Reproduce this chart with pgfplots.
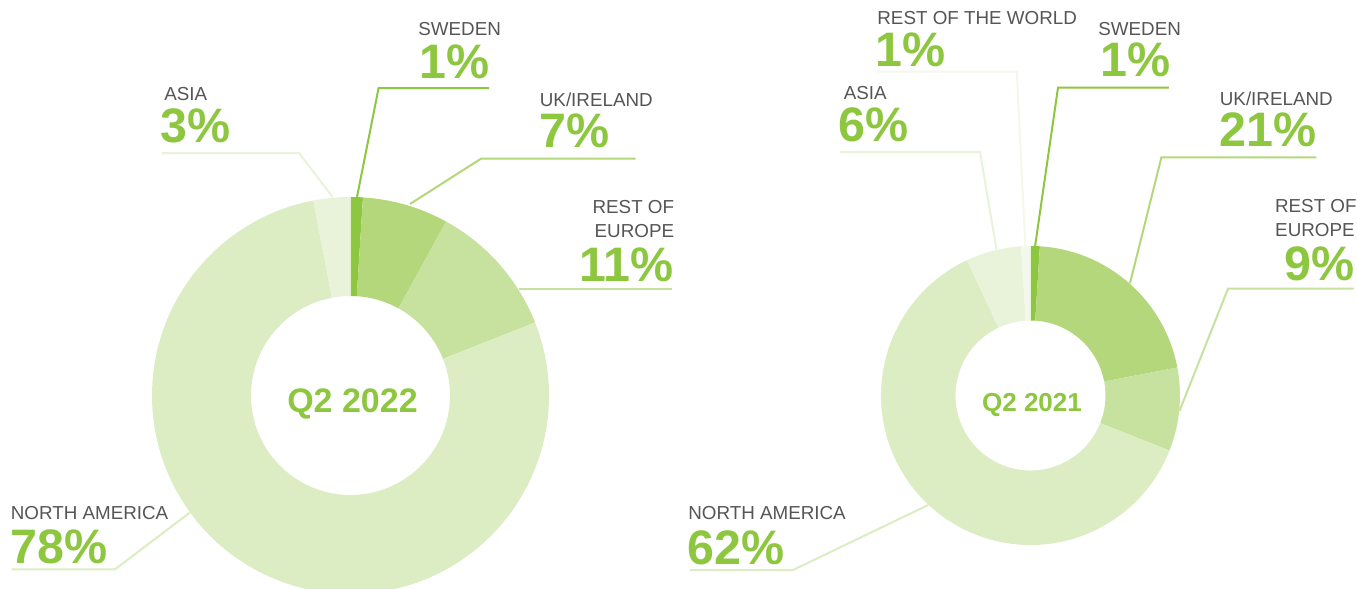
\documentclass[border=0pt]{standalone}
\usepackage{pgfplots}
\pgfplotsset{compat=1.18}
\usepackage{fontspec}
\setmainfont{Liberation Sans}
\definecolor{cSwe}{HTML}{8DC63F}
\definecolor{cUK}{HTML}{B3D77A}
\definecolor{cRoE}{HTML}{C6E29E}
\definecolor{cNA}{HTML}{DCECC3}
\definecolor{cAsia}{HTML}{E8F3DA}
\definecolor{cRoW}{HTML}{F3F8EC}
\definecolor{cTxt}{HTML}{8DC63F}
\definecolor{cGray}{HTML}{555555}
\tikzset{
  lab/.style={font=\fontsize{9.4}{11}\selectfont, text=cGray, inner sep=0pt},
  pct/.style={font=\fontsize{24.2}{28}\selectfont\bfseries, text=cTxt, inner sep=0pt}}
% #1 cx, #2 cy (image px), #3 outer radius, #4 inner radius, #5 cumulative % before slice, #6 slice %, #7 colour
\newcommand\slice[7]{%
  \fill[#7, shift={(axis cs:#1,#2)}]
    ({90-3.6*#5}:#3) arc[start angle={90-3.6*#5}, end angle={90-3.6*(#5+#6)}, radius=#3]
    -- ({90-3.6*(#5+#6)}:#4) arc[start angle={90-3.6*(#5+#6)}, end angle={90-3.6*#5}, radius=#4] -- cycle;}
\begin{document}
\begin{tikzpicture}
\begin{axis}[width=678.5pt, height=294.5pt, scale only axis, hide axis,
  xmin=0, xmax=1357, ymin=0, ymax=589, y dir=reverse, clip=false]
\begin{scope}
\clip (axis cs:0,0) rectangle (axis cs:1357,589);
% Q2 2022: Sweden 1, UK/Ireland 7, Rest of Europe 11, North America 78, Asia 3
\slice{350.5}{395.5}{99.25pt}{49.75pt}{0}{1}{cSwe}
\slice{350.5}{395.5}{99.25pt}{49.75pt}{1}{7}{cUK}
\slice{350.5}{395.5}{99.25pt}{49.75pt}{8}{11}{cRoE}
\slice{350.5}{395.5}{99.25pt}{49.75pt}{19}{78}{cNA}
\slice{350.5}{395.5}{99.25pt}{49.75pt}{97}{3}{cAsia}
% Q2 2021: Sweden 1, UK/Ireland 21, Rest of Europe 9, North America 62, Asia 6, Rest of the world 1
\slice{1030.5}{395.5}{74.75pt}{37.5pt}{0}{1}{cSwe}
\slice{1030.5}{395.5}{74.75pt}{37.5pt}{1}{21}{cUK}
\slice{1030.5}{395.5}{74.75pt}{37.5pt}{22}{9}{cRoE}
\slice{1030.5}{395.5}{74.75pt}{37.5pt}{31}{62}{cNA}
\slice{1030.5}{395.5}{74.75pt}{37.5pt}{93}{6}{cAsia}
\slice{1030.5}{395.5}{74.75pt}{37.5pt}{99}{1}{cRoW}
\end{scope}
% leader lines, left
\addplot[no markers, line width=1pt, cSwe] coordinates {(489,88) (378.6,88) (357,197)};
\addplot[no markers, line width=1pt, cAsia] coordinates {(161.6,153) (299,153) (332.6,197)};
\addplot[no markers, line width=1pt, cUK] coordinates {(635.7,158.7) (481,158.7) (410,204)};
\addplot[no markers, line width=1pt, cRoE] coordinates {(672,288.7) (519,288.7)};
\addplot[no markers, line width=1pt, cNA] coordinates {(11.6,569.3) (115,569.3) (189.7,512.7)};
% leader lines, right
\addplot[no markers, line width=1pt, cRoW] coordinates {(877,71.7) (1016.8,71.7) (1025.4,246.7)};
\addplot[no markers, line width=1pt, cSwe] coordinates {(1168.8,87.7) (1058,87.7) (1035,246.7)};
\addplot[no markers, line width=1pt, cAsia] coordinates {(840,152) (980,152) (996.5,249.3)};
\addplot[no markers, line width=1pt, cUK] coordinates {(1316.4,157.3) (1161.4,157.3) (1130,283.3)};
\addplot[no markers, line width=1pt, cRoE] coordinates {(1353.6,288.7) (1228,288.7) (1179.6,410.7)};
\addplot[no markers, line width=1pt, cNA] coordinates {(689.5,570) (793,570) (928.3,505)};
% texts, left
\node[lab, anchor=base west] at (axis cs:418,35.7) {SWEDEN};
\node[pct, anchor=base west] at (axis cs:419,78) {1\%};
\node[lab, anchor=base west] at (axis cs:164,100) {ASIA};
\node[pct, anchor=base west] at (axis cs:160,142) {3\%};
\node[lab, anchor=base west] at (axis cs:539.5,106) {UK/IRELAND};
\node[pct, anchor=base west] at (axis cs:539,148) {7\%};
\node[lab, anchor=base east] at (axis cs:674.5,213) {REST OF};
\node[lab, anchor=base east] at (axis cs:674.5,237) {EUROPE};
\node[pct, anchor=base east] at (axis cs:674,281) {11\%};
\node[lab, anchor=base west] at (axis cs:10.5,519) {NORTH AMERICA};
\node[pct, anchor=base west] at (axis cs:10,563) {78\%};
\node[anchor=base, inner sep=0pt, text=cTxt, font=\fontsize{17}{20}\selectfont\bfseries] at (axis cs:352.5,412) {Q2 2022};
% texts, right
\node[lab, anchor=base west] at (axis cs:877,25) {REST OF THE WORLD};
\node[pct, anchor=base west] at (axis cs:875.5,67) {1\%};
\node[lab, anchor=base west] at (axis cs:1098,35) {SWEDEN};
\node[pct, anchor=base west] at (axis cs:1100,76) {1\%};
\node[lab, anchor=base west] at (axis cs:843.5,99.3) {ASIA};
\node[pct, anchor=base west] at (axis cs:838.5,141.5) {6\%};
\node[lab, anchor=base west] at (axis cs:1219.5,105) {UK/IRELAND};
\node[pct, anchor=base west] at (axis cs:1219,146) {21\%};
\node[lab, anchor=base east] at (axis cs:1357,212.7) {REST OF};
\node[lab, anchor=base east] at (axis cs:1355,236.7) {EUROPE};
\node[pct, anchor=base east] at (axis cs:1355,280) {9\%};
\node[lab, anchor=base west] at (axis cs:688,519.3) {NORTH AMERICA};
\node[pct, anchor=base west] at (axis cs:687.5,564) {62\%};
\node[anchor=base, inner sep=0pt, text=cTxt, font=\fontsize{13}{16}\selectfont\bfseries] at (axis cs:1032,411.5) {Q2 2021};
\end{axis}
\pgfresetboundingbox
\path[use as bounding box] (current axis.south west) rectangle (current axis.north east);
\end{tikzpicture}
\end{document}
